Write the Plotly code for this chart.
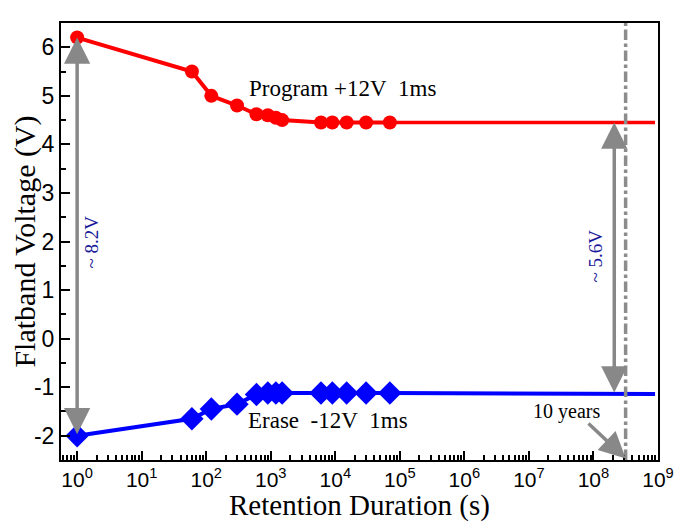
import math
import plotly.graph_objects as go

# retention data
t_s = [1, 60, 120, 300, 600, 900, 1200, 1500, 6000, 9000, 15000, 30000, 70000]
v_program = [6.2, 5.5, 5.0, 4.8, 4.62, 4.6, 4.55, 4.5, 4.45, 4.45, 4.45, 4.45, 4.45]
v_erase = [-2.0, -1.65, -1.45, -1.35, -1.15, -1.12, -1.12, -1.12, -1.12, -1.12, -1.12, -1.12, -1.12]

# extrapolation to 10^9 s
t_extra = [70000, 9e8]
v_program_extra = [4.45, 4.45]
v_erase_extra = [-1.12, -1.14]

ten_years = 3.15e8
xtickvals = [10 ** k for k in range(10)]
xticktext = ["10<sup>%d</sup>" % k for k in range(10)]
xminor = [m * 10 ** k for k in range(-1, 9) for m in range(2, 10)]
ytickvals = [-2, -1, 0, 1, 2, 3, 4, 5, 6]
yticktext = ["-2", "-1", "0", "1", "2", "3", "4", "5", "6"]

serif = "Liberation Serif, Times New Roman, serif"
sans = "Liberation Sans, Arial, sans-serif"
arrow_grey = "#888888"

fig = go.Figure()
fig.add_trace(go.Scatter(x=t_extra, y=v_program_extra, mode="lines",
                         line=dict(color="#ff0000", width=3.5)))
fig.add_trace(go.Scatter(x=t_extra, y=v_erase_extra, mode="lines",
                         line=dict(color="#0000ff", width=4)))
fig.add_trace(go.Scatter(x=t_s, y=v_program, mode="lines+markers",
                         line=dict(color="#ff0000", width=4),
                         marker=dict(symbol="circle", size=14, color="#ff0000")))
fig.add_trace(go.Scatter(x=t_s, y=v_erase, mode="lines+markers",
                         line=dict(color="#0000ff", width=4),
                         marker=dict(symbol="diamond", size=18, color="#0000ff")))
fig.add_trace(go.Scatter(x=[ten_years, ten_years], y=[-2.5, 6.5], mode="lines",
                         line=dict(color="#8c8c8c", width=3.5, dash="dashdot")))

ann = []
# double arrows for the memory window
for xv, y_top, y_bot in [(1, 6.2, -2.0), (2.1e8, 4.45, -1.14)]:
    lx = math.log10(xv)
    ann.append(dict(x=lx, y=y_top, ax=lx, ay=y_bot, xref="x", yref="y", axref="x", ayref="y",
                    showarrow=True, arrowside="end+start", arrowhead=2, arrowsize=1.5,
                    arrowwidth=3.5, arrowcolor=arrow_grey, text=""))
ann.append(dict(x=0.23, y=2.0, xref="x", yref="y", text="~ 8.2V", textangle=-90,
                showarrow=False, font=dict(family=serif, size=19, color="#1a1a9a")))
ann.append(dict(x=8.03, y=1.7, xref="x", yref="y", text="~ 5.6V", textangle=-90,
                showarrow=False, font=dict(family=serif, size=19, color="#1a1a9a")))
ann.append(dict(x=4.11, y=5.16, xref="x", yref="y", text="Program +12V&nbsp;&nbsp;1ms",
                showarrow=False, font=dict(family=serif, size=23, color="black")))
ann.append(dict(x=3.88, y=-1.69, xref="x", yref="y", text="Erase&nbsp;&nbsp;-12V&nbsp;&nbsp;1ms",
                showarrow=False, font=dict(family=serif, size=23, color="black")))
ann.append(dict(x=7.58, y=-1.51, xref="x", yref="y", text="10 years",
                showarrow=False, font=dict(family=serif, size=20, color="black")))
ann.append(dict(x=8.5, y=-2.47, ax=7.9, ay=-1.72, xref="x", yref="y", axref="x", ayref="y",
                showarrow=True, arrowhead=2, arrowsize=1.5, arrowwidth=3.5,
                arrowcolor=arrow_grey, text=""))

# page body adds an 8px margin, so the figure is offset by 8px
fig.update_layout(
    width=669, height=514,
    margin=dict(l=53, r=19, t=15, b=62),
    plot_bgcolor="white", paper_bgcolor="white",
    showlegend=False,
    annotations=ann,
    xaxis=dict(type="log", range=[-0.25, 9.0], tickvals=xtickvals, ticktext=xticktext,
               ticks="inside", ticklen=9, tickwidth=2, tickcolor="black",
               minor=dict(ticks="inside", tickmode="array", tickvals=xminor,
                          ticklen=5, tickwidth=1.5, tickcolor="black", showgrid=False),
               showline=True, linecolor="black", linewidth=2, mirror=True,
               showgrid=False, zeroline=False, automargin=False,
               tickfont=dict(family=sans, size=21, color="black"),
               title=dict(text="Retention Duration (s)", font=dict(family=serif, size=29, color="black"),
                          standoff=4)),
    yaxis=dict(range=[-2.5, 6.5], tickvals=ytickvals, ticktext=yticktext,
               ticks="inside", ticklen=9, tickwidth=2, tickcolor="black",
               minor=dict(ticks="inside", ticklen=5, tickwidth=1.5, tickcolor="black",
                          dtick=0.5, showgrid=False),
               showline=True, linecolor="black", linewidth=2, mirror=True,
               showgrid=False, zeroline=False, automargin=False,
               tickfont=dict(family=sans, size=23, color="black"),
               title=dict(text="Flatband Voltage (V)", font=dict(family=serif, size=30, color="black"),
                          standoff=0)),
)

fig.write_html("out.html")
